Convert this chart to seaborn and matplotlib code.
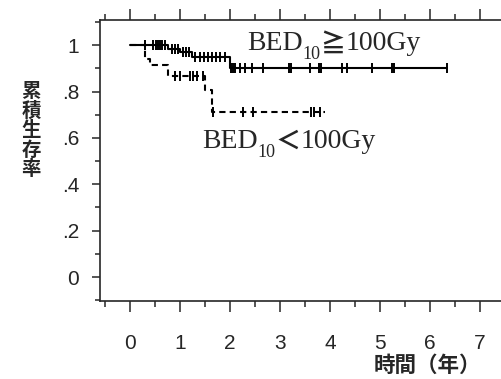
import matplotlib
matplotlib.use("Agg")
import matplotlib.pyplot as plt
import numpy as np
import pandas as pd
import seaborn as sns
from matplotlib.ticker import MultipleLocator

sns.set_theme(style="ticks")
plt.rcParams["font.family"] = ["Liberation Sans", "DejaVu Sans"]

# BED10 >= 100Gy (solid)
high_times = [0.0, 0.76, 1.0, 1.24, 2.0, 6.34]
high_surv = [1.0, 0.985, 0.97, 0.95, 0.90, 0.90]
high_censor = [0.3, 0.46, 0.52, 0.56, 0.6, 0.64, 0.7, 0.84, 0.9, 0.96,
               1.06, 1.12, 1.18, 1.3, 1.4, 1.48, 1.56, 1.64, 1.72, 1.8, 1.9,
               2.03, 2.07, 2.11, 2.2, 2.3, 2.44, 2.66, 3.18, 3.22, 3.6, 3.78,
               3.82, 4.24, 4.34, 4.84, 5.24, 5.28, 6.34]

# BED10 < 100Gy (dashed)
low_times = [0.0, 0.3, 0.4, 0.76, 1.5, 1.64, 3.9]
low_surv = [1.0, 0.94, 0.915, 0.865, 0.805, 0.71, 0.71]
low_censor = [0.9, 1.0, 1.2, 1.27, 1.34, 1.46, 1.66, 2.26, 2.46, 3.62, 3.68, 3.8]

x_ticks = [0, 1, 2, 3, 4, 5, 6, 7]
y_ticks = [0, 0.2, 0.4, 0.6, 0.8, 1.0]
y_tick_labels = ["0", ".2", ".4", ".6", ".8", "1"]


def step_value(times, surv, t):
    idx = np.searchsorted(times, t, side="right") - 1
    return surv[max(idx, 0)]


def bed_label(ax, x, y, sign):
    serif = ["Liberation Serif", "DejaVu Serif"]
    t1 = ax.text(x, y, "BED", family=serif, fontsize=20, va="baseline", ha="left")
    t2 = ax.annotate("10", xy=(1, 0), xycoords=t1, xytext=(0, -5),
                     textcoords="offset points", family=serif, fontsize=13,
                     va="bottom", ha="left")
    t3 = ax.annotate(sign, xy=(1, 0), xycoords=(t2, t1), xytext=(0, 0),
                     textcoords="offset points", family=["Noto Sans CJK JP", "DejaVu Sans"],
                     fontsize=18, fontweight="bold", va="bottom", ha="left")
    ax.annotate("100Gy", xy=(1, 0), xycoords=(t3, t1), xytext=(0, 0),
                textcoords="offset points", family=serif, fontsize=20,
                va="bottom", ha="left")


fig = plt.figure(figsize=(5.02, 3.79), dpi=100)
ax = fig.add_axes([0.199, 0.206, 0.801, 0.741])

high_df = pd.DataFrame({"time": high_times, "surv": high_surv})
low_df = pd.DataFrame({"time": low_times, "surv": low_surv})
sns.lineplot(data=high_df, x="time", y="surv", drawstyle="steps-post",
             color="black", linewidth=1.5, ax=ax)
sns.lineplot(data=low_df, x="time", y="surv", drawstyle="steps-post",
             color="black", linewidth=1.5, ax=ax)
ax.lines[-1].set_linestyle((0, (3, 2)))

for times, surv, censor in [(high_times, high_surv, high_censor),
                            (low_times, low_surv, low_censor)]:
    cdf = pd.DataFrame({"time": censor,
                        "surv": [step_value(times, surv, t) for t in censor]})
    sns.scatterplot(data=cdf, x="time", y="surv", marker="|", s=60,
                    linewidth=1.4, color="black", ax=ax)

ax.set_xlim(-0.6, 7.44)
ax.set_ylim(-0.103, 1.108)
ax.set_xticks(x_ticks)
ax.set_yticks(y_ticks)
ax.set_yticklabels(y_tick_labels)
ax.xaxis.set_minor_locator(MultipleLocator(0.5))
ax.yaxis.set_minor_locator(MultipleLocator(0.1))
ax.set_xlabel("")
ax.set_ylabel("")

ax.spines["right"].set_visible(False)
for s in ["left", "top", "bottom"]:
    ax.spines[s].set_linewidth(1.2)
ax.tick_params(axis="x", which="major", direction="out", length=8, width=1.1,
               top=True, labeltop=False, labelsize=15, pad=16)
ax.tick_params(axis="x", which="minor", direction="out", length=4.3, width=1.1, top=True)
ax.tick_params(axis="y", which="major", direction="out", length=6, width=1.1,
               right=False, labelsize=15, pad=9)
ax.tick_params(axis="y", which="minor", direction="out", length=3.5, width=1.1, right=False)

bed_label(ax, 2.34, 0.978, "≧")
bed_label(ax, 1.44, 0.556, "＜")

cjk = ["Noto Sans CJK JP", "DejaVu Sans"]
fig.text(0.062, 0.655, "\n".join("累積生存率"), family=cjk, fontsize=14,
         fontweight="bold", ha="center", va="center", linespacing=1.03)
fig.text(0.958, 0.008, "時間（年）", family=cjk, fontsize=15.5,
         fontweight="bold", ha="right", va="bottom")

fig.savefig("out.png", dpi=100)
